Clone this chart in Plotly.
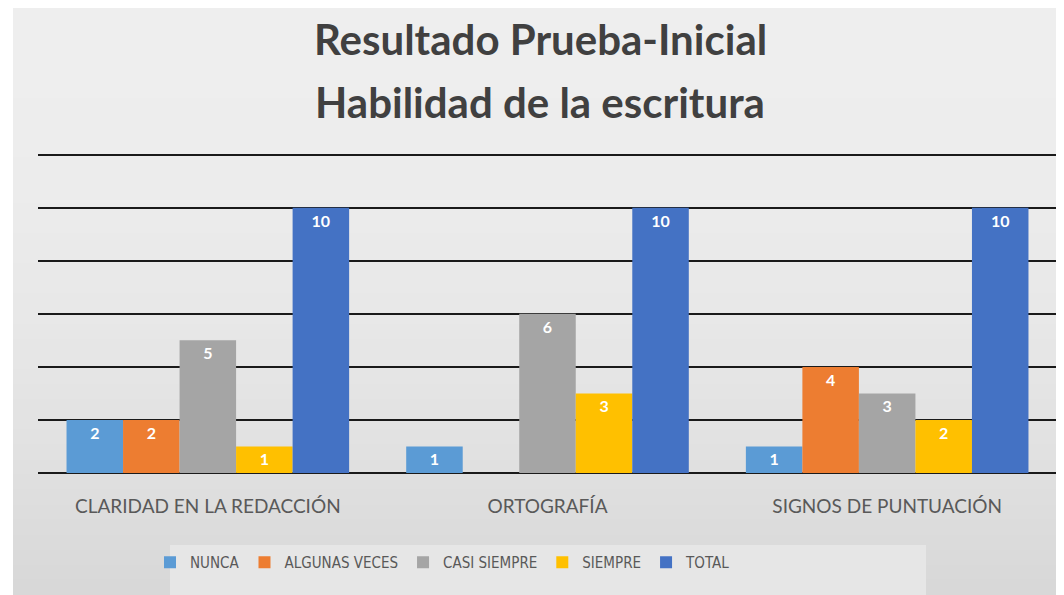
import plotly.graph_objects as go

categories = ["CLARIDAD EN LA REDACCIÓN", "ORTOGRAFÍA", "SIGNOS DE PUNTUACIÓN"]
series_names = ["NUNCA", "ALGUNAS VECES", "CASI SIEMPRE", "SIEMPRE", "TOTAL"]
nunca = [2, 1, 1]
algunas_veces = [2, 0, 4]
casi_siempre = [5, 6, 3]
siempre = [1, 3, 2]
total = [10, 10, 10]
colors = ["#5B9BD5", "#ED7D31", "#A5A5A5", "#FFC000", "#4472C4"]
title_lines = ["Resultado Prueba-Inicial", "Habilidad de la escritura"]

W, H = 1064, 595
OFF = 8  # page body margin offset
L, R, T, B = 38 - OFF, W - (1057 - OFF), 152 - OFF, H - (473 - OFF)

fig = go.Figure()
for name, vals, col in zip(series_names, [nunca, algunas_veces, casi_siempre, siempre, total], colors):
    fig.add_trace(go.Bar(
        x=categories, y=vals, name=name, marker_color=col, marker_line_width=0,
        text=[str(v) if v else "" for v in vals],
        textposition="inside", insidetextanchor="end", textangle=0,
        constraintext="none",
        textfont=dict(color="white", size=16, family="Lato", weight="bold"),
    ))

PW, PH = W - L - R, H - T - B

def px_x(px):
    return (px - OFF - L) / PW

def px_y(py):
    return (H - B - (py - OFF)) / PH

shapes = []
n = 40
top, bot = 7, 610
c0, c1 = 0xEE, 0xD6
for i in range(n):
    y0 = top + (bot - top) * i / n
    y1 = top + (bot - top) * (i + 1) / n + 1
    t = (i + 0.5) / n
    c = int(round(c0 + (c1 - c0) * t * t))
    shapes.append(dict(type="rect", xref="paper", yref="paper", layer="below",
                       x0=px_x(13), x1=px_x(1080), y0=px_y(min(y1, bot)), y1=px_y(y0),
                       fillcolor=f"rgb({c},{c},{c})", line_width=0))
shapes.append(dict(type="rect", xref="paper", yref="paper", layer="below",
                   x0=px_x(170), x1=px_x(926), y0=px_y(610), y1=px_y(545),
                   fillcolor="#e6e6e6", line_width=0))

annotations = []
for text, yc in zip(title_lines, [39, 102]):
    annotations.append(dict(text=f"<b>{text}</b>", xref="paper", yref="paper",
                            x=px_x(540), y=px_y(yc), xanchor="center", yanchor="middle",
                            showarrow=False,
                            font=dict(family="Lato", size=42, color="#404040")))

fig.update_layout(
    width=W, height=H,
    margin=dict(l=L, r=R, t=T, b=B, autoexpand=False),
    paper_bgcolor="white", plot_bgcolor="rgba(0,0,0,0)",
    barmode="group", bargap=0.168, bargroupgap=0,
    xaxis=dict(showgrid=False, showline=False, ticks="", automargin=False,
               ticklabelstandoff=20,
               tickfont=dict(family="Lato", size=19, color="#595959")),
    yaxis=dict(range=[0, 12.1], dtick=2, showticklabels=False, showgrid=True,
               automargin=False,
               gridcolor="#1a1a1a", gridwidth=2, zeroline=True, zerolinecolor="#1a1a1a",
               zerolinewidth=2, showline=False),
    legend=dict(orientation="h", x=px_x(443), xanchor="center", y=px_y(546), yanchor="top",
                font=dict(family="DejaVu Sans Condensed, Lato", size=15, color="#595959"),
                bgcolor="rgba(0,0,0,0)", itemwidth=30, traceorder="normal"),
    shapes=shapes,
    annotations=annotations,
    font=dict(family="Lato"),
)

fig.write_html("out.html")
